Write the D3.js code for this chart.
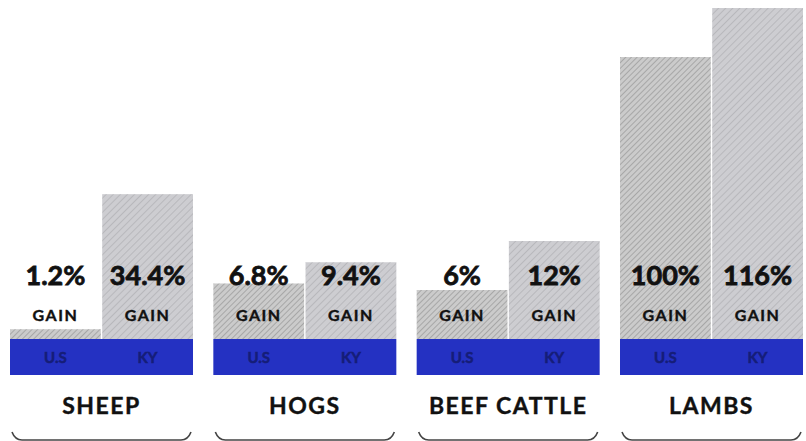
<!DOCTYPE html>
<html>
<head>
<meta charset="utf-8">
<script src="https://cdn.jsdelivr.net/npm/d3@7"></script>
<style>
  html, body { margin: 0; padding: 0; background: #ffffff; }
  svg { display: block; }
  text { font-family: Lato, "Open Sans", sans-serif; font-weight: bold; fill: #111; }
</style>
</head>
<body>
<svg id="chart" width="806" height="441"></svg>
<script>
// ---- data ----
const categories = ["SHEEP", "HOGS", "BEEF CATTLE", "LAMBS"];
const seriesNames = ["U.S", "KY"];
const usGain = [1.2, 6.8, 6, 100];
const kyGain = [34.4, 9.4, 12, 116];
const percentLabels = [["1.2%", "34.4%"], ["6.8%", "9.4%"], ["6%", "12%"], ["100%", "116%"]];
const gainWord = "GAIN";

const rows = categories.map((c, i) => ({
  category: c,
  bars: [
    { series: seriesNames[0], value: usGain[i], label: percentLabels[i][0] },
    { series: seriesNames[1], value: kyGain[i], label: percentLabels[i][1] }
  ]
}));

// ---- layout ----
const baseY = 339, bandBottom = 375;
const svg = d3.select("#chart");

const x = d3.scaleBand().domain(categories).range([10, 803]).paddingInner(0.1).paddingOuter(0);
const xs = d3.scaleBand().domain(seriesNames).range([0, x.bandwidth()]).paddingInner(0.015);
// broken (piecewise linear) value scale, as drawn in the original
const y = d3.scaleLinear().domain([0, 12, 100, 116]).range([baseY, 241, 57, 8]);

// hatch patterns
const defs = svg.append("defs");
const pat = defs.append("pattern").attr("id", "hatch").attr("patternUnits", "userSpaceOnUse")
  .attr("width", 4).attr("height", 4).attr("patternTransform", "rotate(45)");
pat.append("rect").attr("width", 4).attr("height", 4).attr("fill", "#cbcbcb");
pat.append("line").attr("x1", 0).attr("y1", 0).attr("x2", 0).attr("y2", 4)
  .attr("stroke", "#8a8a8a").attr("stroke-width", 1.1);

const pat2 = defs.append("pattern").attr("id", "hatchLight").attr("patternUnits", "userSpaceOnUse")
  .attr("width", 5).attr("height", 5).attr("patternTransform", "rotate(45)");
pat2.append("rect").attr("width", 5).attr("height", 5).attr("fill", "#cdcdd1");
pat2.append("line").attr("x1", 0).attr("y1", 0).attr("x2", 0).attr("y2", 5)
  .attr("stroke", "#a4a4a8").attr("stroke-width", 1);

const g = svg.selectAll("g.group").data(rows).join("g")
  .attr("class", "group")
  .attr("transform", d => `translate(${x(d.category)},0)`);

// bars
g.selectAll("rect.bar").data(d => d.bars).join("rect")
  .attr("class", "bar")
  .attr("x", d => xs(d.series))
  .attr("width", xs.bandwidth())
  .attr("y", d => y(d.value))
  .attr("height", d => baseY - y(d.value))
  .attr("fill", (d, i) => i === 0 ? "url(#hatch)" : "url(#hatchLight)");

// blue base band
g.append("rect")
  .attr("x", 0).attr("width", x.bandwidth())
  .attr("y", baseY).attr("height", bandBottom - baseY)
  .attr("fill", "#2431c2");

// series names inside band
g.selectAll("text.ser").data(d => d.bars).join("text")
  .attr("class", "ser")
  .attr("x", d => xs(d.series) + xs.bandwidth() / 2)
  .attr("y", 363)
  .attr("text-anchor", "middle")
  .style("font-size", "15px")
  .style("fill", "#151d78")
  .style("stroke", "#151d78")
  .style("stroke-width", "0.5px")
  .text(d => d.series);

// percent labels
g.selectAll("text.pct").data(d => d.bars).join("text")
  .attr("class", "pct")
  .attr("x", d => xs(d.series) + xs.bandwidth() / 2)
  .attr("y", 285)
  .attr("text-anchor", "middle")
  .style("font-size", "27px")
  .style("stroke", "#111")
  .style("stroke-width", "0.8px")
  .text(d => d.label);

// GAIN labels
g.selectAll("text.gain").data(d => d.bars).join("text")
  .attr("class", "gain")
  .attr("x", d => xs(d.series) + xs.bandwidth() / 2)
  .attr("y", 321)
  .attr("text-anchor", "middle")
  .style("font-size", "16px")
  .style("stroke", "#111")
  .style("stroke-width", "0.4px")
  .style("letter-spacing", "1.5px")
  .text(gainWord);

// category names
g.append("text")
  .attr("x", x.bandwidth() / 2)
  .attr("y", 414)
  .attr("text-anchor", "middle")
  .style("font-size", "23px")
  .style("stroke", "#111")
  .style("stroke-width", "0.4px")
  .style("letter-spacing", "1.5px")
  .text(d => d.category);

// bottom brackets
g.append("path")
  .attr("d", () => {
    const w = x.bandwidth();
    return `M2,432 Q5,440 12,440 L${w - 12},440 Q${w - 5},440 ${w - 2},432`;
  })
  .attr("fill", "none")
  .attr("stroke", "#444")
  .attr("stroke-width", 1.6);
</script>
</body>
</html>
